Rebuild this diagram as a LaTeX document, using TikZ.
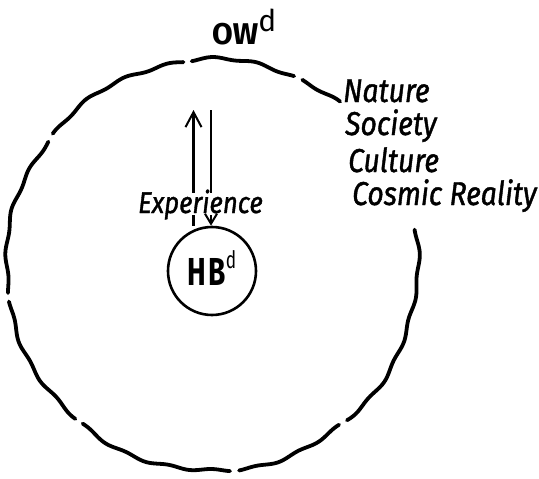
\documentclass[tikz,border=0pt]{standalone}
\usepackage{fontspec}
\usetikzlibrary{arrows.meta}
\setmainfont{Fira Sans}
\newfontfamily\handfont[FakeStretch=0.86, FakeBold=1.2]{Fira Sans}
\newfontfamily\owfont{Fira Sans}
\newfontfamily\hbfont[FakeStretch=0.72]{Fira Sans}
\newcommand\wavyseg[2]{%
  \draw[outline] plot[domain=#1:#2, samples=120, smooth]
    ({212+(206+1.2*sin(29*\x)+1.0*sin(9*\x+40))*cos(\x)},
     {265-(206+1.2*sin(29*\x)+1.0*sin(9*\x+40))*sin(\x)});}
\tikzset{
  outline/.style={line width=3.8pt, line cap=round, line join=round},
  arrline/.style={line width=2.2pt},
  uphead/.style={-{Straight Barb[length=15pt,width=16pt,line width=2pt]}},
  downhead/.style={-{Straight Barb[length=10pt,width=12pt,line width=2pt]}},
  hand/.style={font=\handfont\itshape\fontsize{33}{36}\selectfont, inner sep=0pt, anchor=base west},
}
\begin{document}
\begin{tikzpicture}[x=1pt,y=-1pt]
\useasboundingbox (0,0) rectangle (539,479);
% outer wavy circle, broken in several places
\wavyseg{51.9}{64}
\wavyseg{66.5}{95.7}
\wavyseg{98}{140.5}
\wavyseg{143}{187.8}
\wavyseg{190.2}{228.4}
\wavyseg{230.8}{275}
\wavyseg{277.5}{308.5}
\wavyseg{311}{369.9}
% labels
\node[inner sep=0pt, anchor=base west, font=\owfont\bfseries\fontsize{30}{32}\selectfont] (ow) at (212,44)
  {OW\raisebox{13pt}{\mdseries d}};
\node[hand] (nat) at (343,102) {Nature};
\node[hand] (soc) at (345,135) {Society};
\node[hand] (cul) at (348,172) {Culture};
\node[hand] (cos) at (352,205) {Cosmic Reality};
% inner circle
\node[circle, draw, line width=2.6pt, minimum size=88pt, inner sep=0pt] (hb) at (212,271) {};
\node[inner sep=0pt, anchor=base, font=\hbfont\bfseries\fontsize{39}{40}\selectfont] (hbt) at (212,285)
  {H\kern2pt B\raisebox{17pt}{\mdseries\fontsize{24}{24}\selectfont d}};
\node[inner sep=0pt, anchor=base, text height=20pt, text depth=2pt,
      font=\handfont\itshape\fontsize{30}{32}\selectfont] (exp) at (200.5,213) {Experience};
% arrows
\coordinate (uTop) at (193.5,110);
\coordinate (dTop) at (211,110);
\draw[arrline] (uTop |- hb.north) -- (uTop |- exp.south);
\draw[arrline, uphead] (uTop |- exp.north) -- (uTop);
\draw[arrline] (dTop) -- (dTop |- exp.north);
\draw[arrline, downhead] (dTop |- exp.south) -- (dTop |- hb.north);
\end{tikzpicture}
\end{document}
